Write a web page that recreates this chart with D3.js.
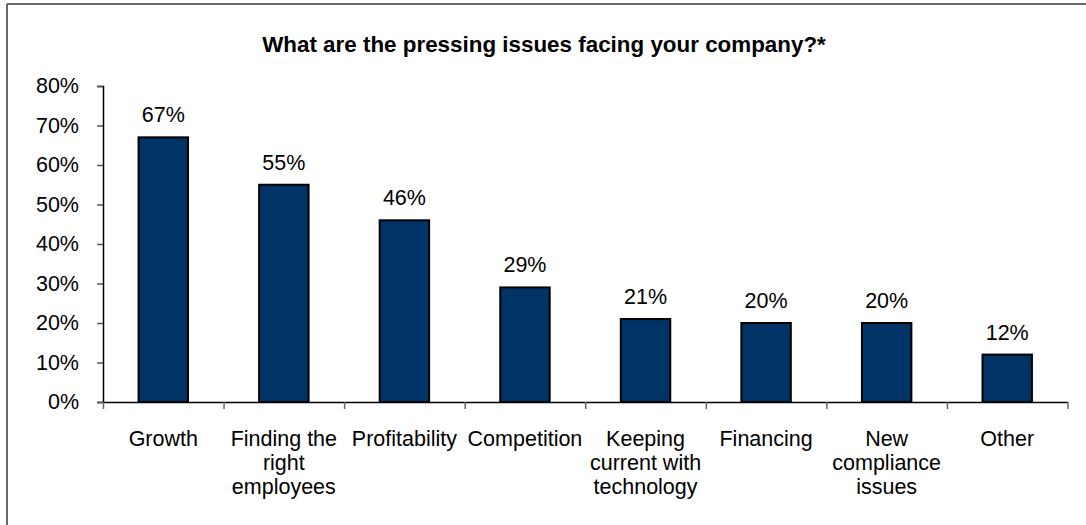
<!DOCTYPE html>
<html>
<head>
<meta charset="utf-8">
<script src="https://cdn.jsdelivr.net/npm/d3@7"></script>
<style>
  html, body { margin: 0; padding: 0; background: #fff; }
  svg { display: block; }
  text { font-family: Arial, "Liberation Sans", sans-serif; fill: #000; }
</style>
</head>
<body>
<svg id="chart" width="1086" height="525"></svg>
<script>
// Survey responses: share of companies naming each issue
const categories = [
  ["Growth"],
  ["Finding the", "right", "employees"],
  ["Profitability"],
  ["Competition"],
  ["Keeping", "current with", "technology"],
  ["Financing"],
  ["New", "compliance", "issues"],
  ["Other"]
];
const values = [67, 55, 46, 29, 21, 20, 20, 12];
const yTicks = [0, 10, 20, 30, 40, 50, 60, 70, 80];
const title = "What are the pressing issues facing your company?*";

const svg = d3.select("#chart");
const W = 1086, H = 525;
const plotLeft = 103, plotRight = 1067.5, plotTop = 86, plotBottom = 402;
const labelSize = 21.5;

// Frame (top and left edges of the chart area border)
svg.append("line").attr("x1", 7).attr("x2", W).attr("y1", 4).attr("y2", 4)
  .attr("stroke", "#6a6a6a").attr("stroke-width", 2);
svg.append("line").attr("x1", 7).attr("x2", 7).attr("y1", 4).attr("y2", H)
  .attr("stroke", "#6a6a6a").attr("stroke-width", 2);

// Title
svg.append("text")
  .attr("x", 544).attr("y", 52)
  .attr("text-anchor", "middle")
  .attr("font-size", 22.4).attr("font-weight", "bold")
  .text(title);

const idx = categories.map((d, i) => i);
const x = d3.scaleBand().domain(idx).range([plotLeft, plotRight])
  .paddingInner(0.59).paddingOuter(0.295);
const y = d3.scaleLinear().domain([0, 80]).range([plotBottom, plotTop]);
const xEdges = d3.scaleLinear().domain([0, categories.length]).range([plotLeft, plotRight]);

// Y axis
const yAxis = svg.append("g").attr("transform", `translate(${plotLeft},0)`)
  .call(d3.axisLeft(y).tickValues(yTicks).tickFormat(d => d + "%").tickSize(6).tickPadding(18));
yAxis.select(".domain").attr("stroke", "#000").attr("stroke-width", 1.5);
yAxis.selectAll(".tick line").attr("stroke", "#555").attr("stroke-width", 1.5);
yAxis.selectAll(".tick text").attr("font-size", labelSize)
  .attr("font-family", "Arial, 'Liberation Sans', sans-serif").attr("fill", "#000");

// X axis with ticks on the category boundaries
const xAxis = svg.append("g").attr("transform", `translate(0,${plotBottom})`)
  .call(d3.axisBottom(xEdges).ticks(categories.length).tickFormat("").tickSize(7).tickSizeOuter(0));
xAxis.select(".domain").attr("stroke", "#000").attr("stroke-width", 1.5);
xAxis.selectAll(".tick line").attr("stroke", "#666").attr("stroke-width", 1.5);

// Bars
svg.append("g").selectAll("rect").data(values).join("rect")
  .attr("x", (d, i) => x(i))
  .attr("y", d => y(d))
  .attr("width", x.bandwidth())
  .attr("height", d => y(0) - y(d))
  .attr("fill", "#003366")
  .attr("stroke", "#000")
  .attr("stroke-width", 2);

// Value labels
svg.append("g").selectAll("text").data(values).join("text")
  .attr("x", (d, i) => x(i) + x.bandwidth() / 2)
  .attr("y", d => y(d) - 15)
  .attr("text-anchor", "middle")
  .attr("font-size", labelSize)
  .text(d => d + "%");

// Category labels
const cat = svg.append("g").selectAll("text").data(categories).join("text")
  .attr("x", (d, i) => x(i) + x.bandwidth() / 2)
  .attr("y", 445.5)
  .attr("text-anchor", "middle")
  .attr("font-size", labelSize);
cat.selectAll("tspan").data(d => d).join("tspan")
  .attr("x", function () { return d3.select(this.parentNode).attr("x"); })
  .attr("dy", (d, i) => i === 0 ? 0 : 24)
  .text(d => d);
</script>
</body>
</html>
